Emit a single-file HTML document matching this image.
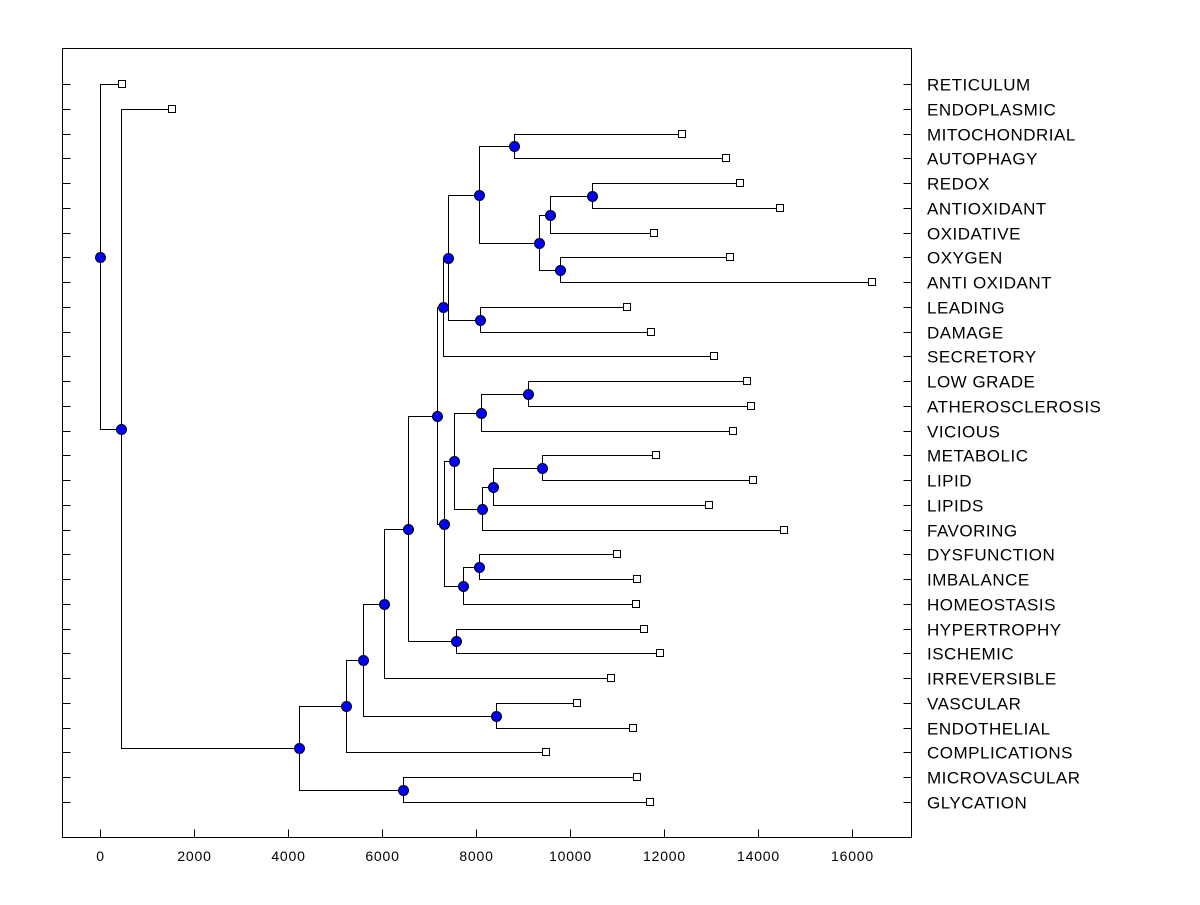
<!DOCTYPE html>
<html><head><meta charset="utf-8"><style>
html,body{margin:0;padding:0;background:#fff;}
svg text{font-family:"Liberation Sans",Arial,sans-serif;fill:#000;}
</style></head><body>
<svg id="chart" width="1200" height="900" xmlns="http://www.w3.org/2000/svg" shape-rendering="crispEdges"></svg>
<script>
const leafNames = ["RETICULUM","ENDOPLASMIC","MITOCHONDRIAL","AUTOPHAGY","REDOX","ANTIOXIDANT","OXIDATIVE","OXYGEN","ANTI OXIDANT","LEADING","DAMAGE","SECRETORY","LOW GRADE","ATHEROSCLEROSIS","VICIOUS","METABOLIC","LIPID","LIPIDS","FAVORING","DYSFUNCTION","IMBALANCE","HOMEOSTASIS","HYPERTROPHY","ISCHEMIC","IRREVERSIBLE","VASCULAR","ENDOTHELIAL","COMPLICATIONS","MICROVASCULAR","GLYCATION"];
const leafValues = [468,1532,12383,13319,13617,14468,11787,13404,16426,11213,11723,13064,13766,13851,13468,11830,13894,12957,14553,11000,11426,11404,11574,11915,10872,10149,11340,9489,11426,11702];
const nodeIds =    ["root","N1","N2","N3","N4","N5","N6","N7","N8","N9","N10","N11","N12","N13","N14","N15","N16","N17","N18","N19","N20","N21","N22","N23","N24","N25","N26","N27","N28"];
const nodeValues = [0,447,4234,5234,6447,5596,6043,8426,6553,7170,7574,7298,7319,7404,8064,8085,8809,9340,9574,9787,10468,7532,7723,8106,8128,9106,8362,9404,8064];
const nodeChildren = [["L0","N1"],["L1","N2"],["N3","N4"],["N5","L27"],["L28","L29"],["N6","N7"],["N8","L24"],["L25","L26"],["N9","N10"],["N11","N12"],["L22","L23"],["N13","L11"],["N21","N22"],["N14","N15"],["N16","N17"],["L9","L10"],["L2","L3"],["N18","N19"],["N20","L6"],["L7","L8"],["L4","L5"],["N23","N24"],["N28","L21"],["N25","L14"],["N26","L18"],["L12","L13"],["N27","L17"],["L15","L16"],["L19","L20"]];
const xTicks = [0,2000,4000,6000,8000,10000,12000,14000,16000];

const svg = document.getElementById('chart');
const NS = "http://www.w3.org/2000/svg";
const X0 = 62.5, X1 = 911.5, Y0 = 48.5, Y1 = 837.5;
function xs(v){ return Math.round(100 + v*0.047) + 0.5; }
function ys(i){ return Math.round(84 + i*(802-84)/29) + 0.5; }
function mk(tag, attrs){ const e=document.createElementNS(NS,tag); for(const k in attrs) e.setAttribute(k,attrs[k]); svg.appendChild(e); return e; }

const frame = mk('rect',{x:X0,y:Y0,width:X1-X0,height:Y1-Y0,fill:'none',stroke:'#000','stroke-width':1});



xTicks.forEach(t=>{
  const x=xs(t);
  const tk = mk('line',{x1:x,y1:Y1,x2:x,y2:Y1-8,stroke:'#000'});
  
  
  const lb = mk('text',{x:x,y:861,'text-anchor':'middle','font-size':14,'letter-spacing':'0.8','shape-rendering':'auto'});
  lb.textContent=t;
  
  
});
leafNames.forEach((n,i)=>{
  const y=ys(i);
  const a = mk('line',{x1:X0,y1:y,x2:X0+8,y2:y,stroke:'#000'});
  
  
  const b = mk('line',{x1:X1,y1:y,x2:X1-8,y2:y,stroke:'#000'});
  
  
  const t = mk('text',{x:927,y:y+6,'font-size':17,'letter-spacing':'0.5'});
  t.textContent=n;
  
  
});

function nodePos(id){
  if(id[0]==='L'){ const i=+id.slice(1); return {x:xs(leafValues[i]),y:ys(i)}; }
  const k=nodeIds.indexOf(id);
  const [a,b]=nodeChildren[k];
  const pa=nodePos(a), pb=nodePos(b);
  return {x:xs(nodeValues[k]),y:Math.round((pa.y+pb.y)/2-0.5)+0.5};
}
const dots=[], squares=[];
nodeIds.forEach((id,k)=>{
  const p=nodePos(id);
  const [a,b]=nodeChildren[k];
  const pa=nodePos(a), pb=nodePos(b);
  const path = mk('path',{d:`M${pa.x},${pa.y}H${p.x}V${pb.y}H${pb.x}`,fill:'none',stroke:'#000','stroke-width':1});
  
  
  dots.push(p);
});
leafNames.forEach((n,i)=>squares.push(nodePos('L'+i)));
squares.forEach(p=>{
  const r = mk('rect',{x:p.x-4,y:p.y-4,width:7,height:7,fill:'#fff',stroke:'#000'});
  
  
});
dots.forEach(p=>{
  const c = mk('circle',{cx:p.x,cy:p.y,r:5,fill:'#0000ff',stroke:'#000','shape-rendering':'auto'});
  
  
});
</script>
</body></html>
